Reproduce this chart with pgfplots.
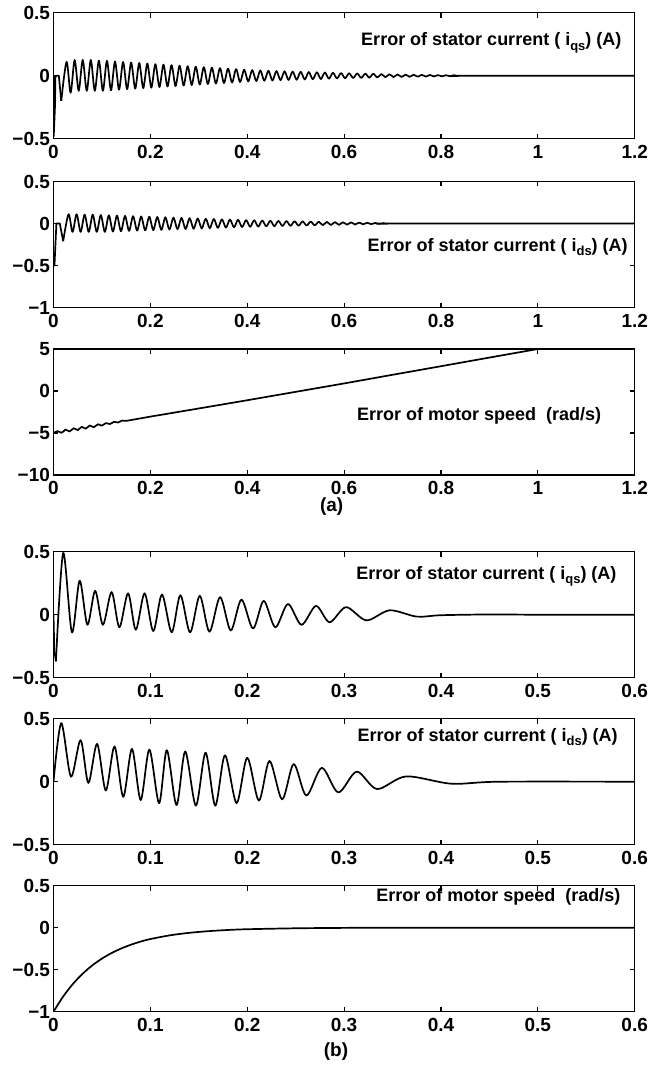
\documentclass[border=0pt]{standalone}
\usepackage{fontspec}
\setmainfont{Liberation Sans}
\usepackage{pgfplots}
\pgfplotsset{compat=1.18}
\newcommand\sub[1]{\raisebox{-0.45ex}{\fontsize{13}{13}\selectfont #1}}
\pgfplotsset{
  myax/.style={
    scale only axis, width=581.2pt, height=126pt,
    axis line style={line width=1.5pt},
    every tick/.style={line width=1.1pt, black},
    major tick length=5pt,
    tick align=inside,
    tick label style={font=\fontsize{19}{19}\selectfont\bfseries},
    xticklabel style={yshift=-3pt},
    clip=true,
  },
  axa/.style={myax, xmin=0, xmax=1.2, xtick={0,0.2,0.4,0.6,0.8,1,1.2},
    xticklabels={0,0.2,0.4,0.6,0.8,1,1.2}},
  axb/.style={myax, xmin=0, xmax=0.6, xtick={0,0.1,0.2,0.3,0.4,0.5,0.6},
    xticklabels={0,0.1,0.2,0.3,0.4,0.5,0.6}},
  cur/.style={black, line width=1.7pt, no markers, line join=round},
}
\tikzset{lab/.style={anchor=base east, inner sep=0pt, font=\fontsize{18}{18}\selectfont\bfseries}}
\begin{document}
\begin{tikzpicture}
\useasboundingbox (0pt,0pt) rectangle (649pt,-1075pt);
% ---------- Panel 1 ----------
\begin{axis}[axa, at={(53.5pt,-12.7pt)}, anchor=north west,
  ymin=-0.5, ymax=0.5, ytick={-0.5,0,0.5}, yticklabels={−0.5,0,0.5}]
\addplot[cur] coordinates {(0,0)(0.0005,-0.48)(0.003,-0.25)(0.004,0)(0.011,0)(0.016,-0.2)};
\addplot[cur, smooth] coordinates {(0.016,-0.2)
(0.0270,0.110)(0.0353,-0.135)(0.0437,0.125)(0.0520,-0.120)(0.0603,0.125)(0.0687,-0.120)(0.0770,0.125)(0.0853,-0.120)(0.0937,0.120)(0.1020,-0.120)
(0.1103,0.118)(0.1187,-0.116)(0.1270,0.113)(0.1353,-0.111)(0.1437,0.109)(0.1520,-0.107)(0.1603,0.105)(0.1687,-0.103)(0.1770,0.101)(0.1853,-0.099)
(0.1937,0.097)(0.2020,-0.095)(0.2103,0.092)(0.2187,-0.090)(0.2270,0.088)(0.2353,-0.086)(0.2437,0.084)(0.2520,-0.082)(0.2603,0.080)(0.2687,-0.078)
(0.2770,0.076)(0.2853,-0.074)(0.2937,0.072)(0.3020,-0.070)(0.3103,0.068)(0.3187,-0.066)(0.3270,0.064)(0.3353,-0.062)(0.3437,0.060)(0.3520,-0.058)
(0.3603,0.056)(0.3687,-0.054)(0.3770,0.052)(0.3853,-0.050)(0.3937,0.048)(0.4020,-0.046)(0.4103,0.045)(0.4187,-0.043)(0.4270,0.042)(0.4353,-0.041)
(0.4437,0.040)(0.4520,-0.039)(0.4603,0.037)(0.4687,-0.036)(0.4770,0.035)(0.4853,-0.034)(0.4937,0.033)(0.5020,-0.032)(0.5103,0.031)(0.5187,-0.030)
(0.5270,0.029)(0.5353,-0.028)(0.5437,0.027)(0.5520,-0.026)(0.5603,0.025)(0.5687,-0.024)(0.5770,0.023)(0.5853,-0.022)(0.5937,0.021)(0.6020,-0.020)
(0.6103,0.019)(0.6187,-0.018)(0.6270,0.018)(0.6353,-0.017)(0.6437,0.016)(0.6520,-0.015)(0.6603,0.015)(0.6687,-0.014)(0.6770,0.013)(0.6853,-0.012)
(0.6937,0.012)(0.7020,-0.011)(0.7103,0.010)(0.7187,-0.010)(0.7270,0.009)(0.7353,-0.009)(0.7437,0.008)(0.7520,-0.008)(0.7603,0.007)(0.7687,-0.007)
(0.7770,0.006)(0.7853,-0.006)(0.7937,0.005)(0.8020,-0.005)(0.8103,0.004)(0.8187,-0.004)(0.8270,0.004)(0.8353,-0.003)(0.845,0)(1.2,0)};
\node[lab] at (axis cs:1.173,0.237) {Error of stator current ( i\sub{qs}) (A)};
\end{axis}
% ---------- Panel 2 ----------
\begin{axis}[axa, at={(53.5pt,-181.5pt)}, anchor=north west,
  ymin=-1, ymax=0.5, ytick={-1,-0.5,0,0.5}, yticklabels={−1,−0.5,0,0.5}]
\addplot[cur] coordinates {(0,-0.5)(0.002,-0.5)(0.006,0)(0.013,0)(0.020,-0.21)};
\addplot[cur, smooth] coordinates {(0.020,-0.21)
(0.0310,0.110)(0.0393,-0.100)(0.0477,0.110)(0.0560,-0.100)(0.0643,0.105)(0.0727,-0.100)(0.0810,0.105)(0.0893,-0.100)(0.0977,0.100)(0.1060,-0.100)
(0.1143,0.098)(0.1227,-0.096)(0.1310,0.094)(0.1393,-0.092)(0.1477,0.090)(0.1560,-0.088)(0.1643,0.087)(0.1727,-0.085)(0.1810,0.084)(0.1893,-0.082)
(0.1977,0.081)(0.2060,-0.079)(0.2143,0.077)(0.2227,-0.076)(0.2310,0.074)(0.2393,-0.073)(0.2477,0.071)(0.2560,-0.069)(0.2643,0.068)(0.2727,-0.066)
(0.2810,0.064)(0.2893,-0.063)(0.2977,0.061)(0.3060,-0.059)(0.3143,0.057)(0.3227,-0.056)(0.3310,0.054)(0.3393,-0.052)(0.3477,0.050)(0.3560,-0.049)
(0.3643,0.047)(0.3727,-0.045)(0.3810,0.044)(0.3893,-0.042)(0.3977,0.040)(0.4060,-0.039)(0.4143,0.038)(0.4227,-0.037)(0.4310,0.036)(0.4393,-0.034)
(0.4477,0.033)(0.4560,-0.032)(0.4643,0.031)(0.4727,-0.030)(0.4810,0.029)(0.4893,-0.028)(0.4977,0.027)(0.5060,-0.026)(0.5143,0.025)(0.5227,-0.024)
(0.5310,0.023)(0.5393,-0.022)(0.5477,0.021)(0.5560,-0.020)(0.5643,0.019)(0.5727,-0.018)(0.5810,0.017)(0.5893,-0.016)(0.5977,0.015)(0.6060,-0.014)
(0.6143,0.013)(0.6227,-0.012)(0.6310,0.011)(0.6393,-0.010)(0.6477,0.009)(0.6560,-0.008)(0.6643,0.007)(0.6727,-0.006)(0.6810,0.005)(0.6893,-0.004)
(0.700,0)(1.2,0)};
\node[lab] at (axis cs:1.186,-0.332) {Error of stator current ( i\sub{ds}) (A)};
\end{axis}
% ---------- Panel 3 ----------
\begin{axis}[axa, at={(53.5pt,-349pt)}, anchor=north west,
  ymin=-10, ymax=5, ytick={-10,-5,0,5}, yticklabels={−10,−5,0,5}]
\addplot[cur] coordinates {(0,-5.00)(0.0083,-4.77)(0.0167,-4.98)(0.0250,-4.60)(0.0333,-4.82)(0.0417,-4.43)(0.0500,-4.65)(0.0583,-4.27)(0.0667,-4.48)(0.0750,-4.10)(0.0833,-4.32)(0.0917,-3.96)(0.1000,-4.12)(0.1083,-3.82)(0.1167,-3.93)(0.1250,-3.67)(0.1333,-3.75)(0.1417,-3.52)(0.1500,-3.56)(0.2,-3.05)(0.3,-2.08)(0.4,-1.1)(0.5,-0.1)(0.6,0.9)(0.7,1.93)(0.8,2.95)(0.9,3.98)(1.0,5.0)(1.2,5.0)};
\node[lab] at (axis cs:1.131,-3.52) {Error of motor speed\ \ (rad/s)};
\end{axis}
\node[font=\fontsize{19}{19}\selectfont\bfseries] at (331.7pt,-507pt) {(a)};
% ---------- Panel 4 ----------
\begin{axis}[axb, at={(53.5pt,-551.7pt)}, anchor=north west,
  ymin=-0.5, ymax=0.5, ytick={-0.5,0,0.5}, yticklabels={−0.5,0,0.5}]
\addplot[cur] coordinates {(0,0)(0.0008,-0.28)(0.0025,-0.37)};
\addplot[cur, smooth] coordinates {(0.0025,-0.37)(0.010,0.49)(0.019,-0.14)(0.027,0.27)(0.035,-0.08)(0.043,0.19)(0.051,-0.08)(0.060,0.18)(0.068,-0.10)(0.077,0.17)(0.085,-0.12)(0.094,0.17)(0.103,-0.13)(0.112,0.16)(0.122,-0.14)(0.131,0.155)(0.141,-0.14)(0.151,0.15)(0.161,-0.135)(0.172,0.14)(0.183,-0.125)(0.194,0.12)(0.206,-0.11)(0.217,0.11)(0.229,-0.10)(0.242,0.085)(0.256,-0.08)(0.271,0.07)(0.285,-0.06)(0.302,0.06)(0.323,-0.045)(0.347,0.035)(0.375,-0.015)(0.40,-0.004)(0.45,0.002)(0.5,0)(0.6,0)};
\node[lab] at (axis cs:0.5814,0.28) {Error of stator current ( i\sub{qs}) (A)};
\end{axis}
% ---------- Panel 5 ----------
\begin{axis}[axb, at={(53.5pt,-718.7pt)}, anchor=north west,
  ymin=-0.5, ymax=0.5, ytick={-0.5,0,0.5}, yticklabels={−0.5,0,0.5}]
\addplot[cur, smooth] coordinates {(0,0)(0.008,0.465)(0.018,0.04)(0.028,0.33)(0.036,-0.01)(0.045,0.30)(0.054,-0.07)(0.063,0.28)(0.072,-0.12)(0.081,0.26)(0.090,-0.145)(0.099,0.255)(0.109,-0.17)(0.117,0.25)(0.127,-0.185)(0.136,0.24)(0.147,-0.19)(0.157,0.23)(0.167,-0.19)(0.177,0.21)(0.189,-0.17)(0.200,0.19)(0.212,-0.15)(0.223,0.165)(0.236,-0.14)(0.248,0.14)(0.261,-0.11)(0.277,0.11)(0.294,-0.085)(0.313,0.08)(0.334,-0.058)(0.364,0.042)(0.411,-0.016)(0.46,0)(0.6,0)};
\node[lab] at (axis cs:0.5827,0.32) {Error of stator current ( i\sub{ds}) (A)};
\end{axis}
% ---------- Panel 6 ----------
\begin{axis}[axb, at={(53.5pt,-885.7pt)}, anchor=north west,
  ymin=-1, ymax=0.5, ytick={-1,-0.5,0,0.5}, yticklabels={−1,−0.5,0,0.5}]
\addplot[cur, smooth] coordinates {(0,-1)(0.01,-0.819)(0.02,-0.670)(0.03,-0.549)(0.04,-0.449)(0.05,-0.368)(0.06,-0.301)(0.07,-0.247)(0.08,-0.202)(0.09,-0.165)(0.10,-0.135)(0.12,-0.091)(0.14,-0.061)(0.16,-0.041)(0.18,-0.027)(0.20,-0.018)(0.25,-0.007)(0.30,-0.002)(0.35,0)(0.6,0)};
\node[lab] at (axis cs:0.5855,0.31) {Error of motor speed\ \ (rad/s)};
\end{axis}
\node[font=\fontsize{19}{19}\selectfont\bfseries] at (336pt,-1052pt) {(b)};
\end{tikzpicture}
\end{document}
